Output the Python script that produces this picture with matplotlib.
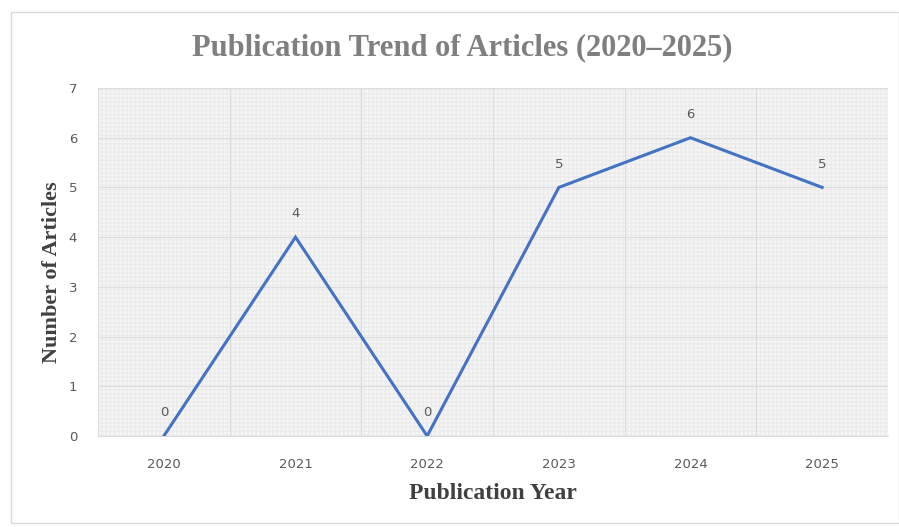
import matplotlib
matplotlib.use("Agg")
import matplotlib.pyplot as plt
from matplotlib.patches import Rectangle

years = ["2020", "2021", "2022", "2023", "2024", "2025"]
articles = [0, 4, 0, 5, 6, 5]
yticks = [0, 1, 2, 3, 4, 5, 6, 7]

fig = plt.figure(figsize=(8.99, 5.27), dpi=100)
fig.patch.set_facecolor("white")
fig.add_artist(Rectangle((11/899, 1 - 523/527), (899 - 11)/899, (523 - 12)/527,
                         transform=fig.transFigure, fill=False,
                         edgecolor="#d9d9d9", linewidth=1.0))

ax = fig.add_axes([98/899, 1 - 436/527, (888 - 98)/899, (436 - 88)/527])
ax.set_facecolor("#f6f6f6")
bg = Rectangle((0, 0), 1, 1, transform=ax.transAxes, facecolor="none",
               edgecolor="#ebebeb", hatch="++++", linewidth=0, zorder=0)
ax.add_patch(bg)

x = [i + 0.5 for i in range(len(years))]
ax.plot(x, articles, color="#4472C4", linewidth=2.2, zorder=3,
        solid_joinstyle="miter")
for xi, v in zip(x, articles):
    ax.annotate(str(v), (xi, v), xytext=(0, 12), textcoords="offset points",
                ha="center", va="bottom", fontsize=9.5, color="#595959")

ax.set_xlim(0, len(years))
ax.set_ylim(0, 7)
ax.set_xticks(x)
ax.set_xticklabels(years)
ax.set_xticks(range(len(years) + 1), minor=True)
ax.set_yticks(yticks)
ax.grid(axis="y", which="major", color="#dcdcdc", linewidth=0.8, zorder=1)
ax.grid(axis="x", which="minor", color="#dcdcdc", linewidth=0.8, zorder=1)
ax.set_axisbelow(True)
ax.tick_params(axis="both", which="both", length=0, labelsize=9.5,
               labelcolor="#595959")
ax.tick_params(axis="x", pad=15.5)
ax.tick_params(axis="y", pad=15)
for s in ax.spines.values():
    s.set_visible(False)
ax.spines["bottom"].set_visible(True)
ax.spines["bottom"].set_color("#d9d9d9")

serif = ["Liberation Serif", "DejaVu Serif"]
ax.set_xlabel("Publication Year", fontsize=17, fontweight="bold",
              family=serif, color="#404040", labelpad=9)
ax.set_ylabel("Number of Articles", fontsize=16, fontweight="bold",
              family=serif, color="#404040", labelpad=5)
ax.yaxis.label.set_y(0.47)
fig.text(462/899, 1 - 48/527, "Publication Trend of Articles (2020\u20132025)",
         ha="center", va="center", fontsize=22, fontweight="bold",
         family=serif, color="#7f7f7f")

fig.savefig("out.png", dpi=100)
